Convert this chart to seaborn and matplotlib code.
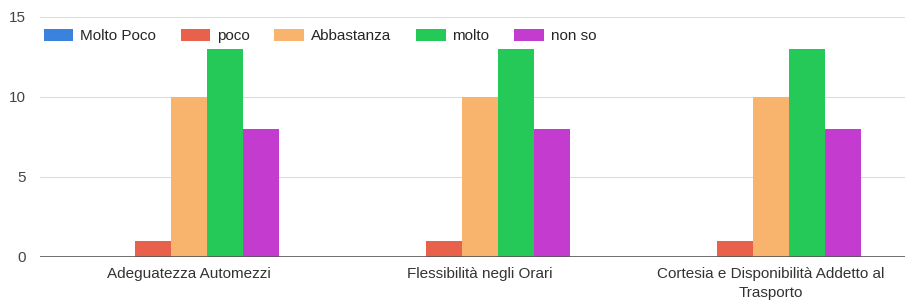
import matplotlib
matplotlib.use("Agg")
import matplotlib.pyplot as plt
import seaborn as sns
import pandas as pd

categories = ["Adeguatezza Automezzi", "Flessibilità negli Orari",
              "Cortesia e Disponibilità Addetto al\nTrasporto"]
series = ["Molto Poco", "poco", "Abbastanza", "molto", "non so"]
molto_poco = [0, 0, 0]
poco = [1, 1, 1]
abbastanza = [10, 10, 10]
molto = [13, 13, 13]
non_so = [8, 8, 8]
colors = ["#3b82de", "#e8614b", "#f8b36c", "#25c957", "#c43bd0"]
yticks = [0, 5, 10, 15]

values = [molto_poco, poco, abbastanza, molto, non_so]
rows = []
for s, vals in zip(series, values):
    for c, v in zip(categories, vals):
        rows.append({"cat": c, "serie": s, "val": v})
df = pd.DataFrame(rows)

sns.set_theme(style="white")
plt.rcParams["font.family"] = ["Liberation Sans", "DejaVu Sans"]

fig = plt.figure(figsize=(9.08, 3.04), dpi=100)
ax = fig.add_axes([40 / 908, 1 - 257 / 304, 865 / 908, 240 / 304])
sns.barplot(data=df, x="cat", y="val", hue="serie", order=categories,
            hue_order=series, palette=colors, width=0.62, ax=ax,
            saturation=1, errorbar=None, linewidth=0)
ax.set_ylim(0, 15)
ax.set_yticks(yticks)
ax.set_xlabel("")
ax.set_ylabel("")
for sp in ax.spines.values():
    sp.set_visible(False)
ax.grid(axis="y", color="#dddddd", linewidth=0.8)
ax.set_axisbelow(True)
ax.axhline(0, color="#555555", linewidth=1.2, zorder=3)
ax.tick_params(axis="both", length=0, labelsize=11, colors="#333333")
ax.tick_params(axis="y", pad=10, labelcolor="#444444")
ax.tick_params(axis="x", pad=7)
for lbl in ax.get_xticklabels():
    lbl.set_linespacing(1.5)
ax.set_xlim(-149 / 291, 2 + 134 / 291)
leg = ax.legend(loc="upper left", bbox_to_anchor=(-0.003, 0.975), ncol=5,
                frameon=False, fontsize=11, handlelength=1.95,
                handleheight=0.8, columnspacing=1.6, handletextpad=0.45,
                borderaxespad=0.0)
fig.savefig("out.png", dpi=100)
